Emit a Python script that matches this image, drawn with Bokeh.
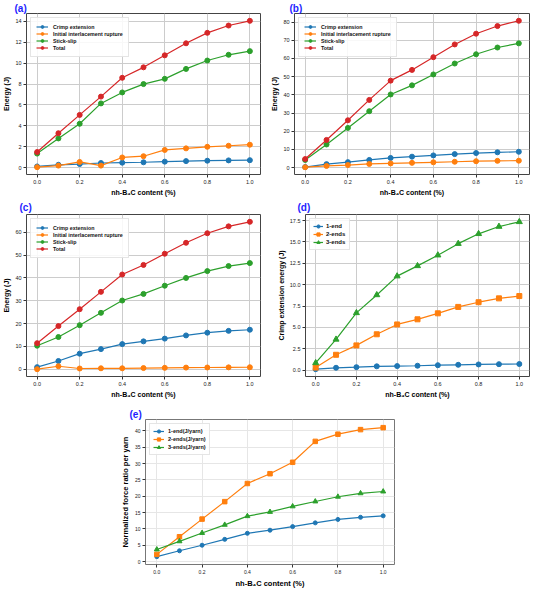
from bokeh.plotting import figure
from bokeh.models import Legend, LegendItem, FixedTicker, Range1d
from bokeh.layouts import column, row
from bokeh.embed import file_html
from bokeh.resources import INLINE

# ---------------- data ----------------
x_content = [0.0, 0.1, 0.2, 0.3, 0.4, 0.5, 0.6, 0.7, 0.8, 0.9, 1.0]
x_ticks = [0.0, 0.2, 0.4, 0.6, 0.8, 1.0]
x_tick_labels = ["0.0", "0.2", "0.4", "0.6", "0.8", "1.0"]
x_title = "nh-B\u2084C content (%)"

energy_names = ["Crimp extension", "Initial interlacement rupture", "Stick-slip", "Total"]

a_crimp = [0.12, 0.28, 0.35, 0.45, 0.48, 0.52, 0.58, 0.63, 0.67, 0.70, 0.72]
a_rupture = [0.05, 0.20, 0.55, 0.20, 0.98, 1.10, 1.70, 1.85, 2.00, 2.10, 2.20]
a_stick = [1.35, 2.80, 4.20, 6.15, 7.20, 8.00, 8.50, 9.45, 10.25, 10.80, 11.15]
a_total = [1.50, 3.30, 5.05, 6.80, 8.60, 9.60, 10.75, 11.90, 12.90, 13.60, 14.05]
a_y_ticks = [0, 2, 4, 6, 8, 10, 12, 14]

b_crimp = [0.3, 1.9, 3.0, 4.2, 5.3, 6.0, 6.7, 7.4, 8.0, 8.4, 8.7]
b_rupture = [0.2, 0.9, 1.4, 2.0, 2.3, 2.6, 2.9, 3.2, 3.5, 3.7, 3.8]
b_stick = [4.2, 12.7, 21.8, 31.0, 40.2, 45.2, 51.2, 57.2, 62.3, 66.0, 68.3]
b_total = [4.7, 15.2, 26.0, 37.2, 47.8, 53.7, 60.7, 67.7, 73.6, 77.8, 80.7]
b_y_ticks = [0, 10, 20, 30, 40, 50, 60, 70, 80]

c_crimp = [0.9, 3.6, 6.8, 8.8, 11.0, 12.2, 13.4, 14.8, 16.0, 16.8, 17.3]
c_rupture = [0.0, 1.3, 0.3, 0.4, 0.4, 0.5, 0.6, 0.7, 0.75, 0.8, 0.85]
c_stick = [10.3, 14.1, 19.3, 24.7, 30.1, 33.0, 36.6, 40.0, 43.0, 45.2, 46.5]
c_total = [11.4, 18.9, 26.3, 33.9, 41.5, 45.7, 50.6, 55.4, 59.6, 62.6, 64.6]
c_y_ticks = [0, 10, 20, 30, 40, 50, 60]

d_names = ["1-end", "2-ends", "3-ends"]
d_one = [0.12, 0.28, 0.35, 0.45, 0.48, 0.52, 0.58, 0.63, 0.67, 0.70, 0.72]
d_two = [0.30, 1.80, 2.90, 4.20, 5.35, 5.95, 6.65, 7.40, 7.95, 8.40, 8.67]
d_three = [0.85, 3.60, 6.70, 8.80, 11.00, 12.20, 13.45, 14.80, 15.95, 16.80, 17.35]
d_y_ticks = [0, 2.5, 5.0, 7.5, 10.0, 12.5, 15.0, 17.5]
d_y_tick_labels = ["0.0", "2.5", "5.0", "7.5", "10.0", "12.5", "15.0", "17.5"]

e_names = ["1-end(J/yarn)", "2-ends(J/yarn)", "3-ends(J/yarn)"]
e_one = [1.5, 3.3, 5.0, 6.8, 8.65, 9.6, 10.7, 11.85, 12.9, 13.55, 14.0]
e_two = [2.2, 7.6, 13.0, 18.35, 23.9, 26.9, 30.4, 36.8, 39.0, 40.4, 41.0]
e_three = [3.7, 6.2, 8.75, 11.25, 13.9, 15.2, 16.9, 18.4, 19.85, 20.9, 21.45]
e_y_ticks = [0, 5, 10, 15, 20, 25, 30, 35, 40]

C_BLUE, C_ORANGE, C_GREEN, C_RED = "#1f77b4", "#ff7f0e", "#2ca02c", "#d62728"
TITLE_FONT = "Liberation Sans"
PANEL_BLUE = "#1e1eff"


def make_panel(width, height, mb, y_rng, y_ticks, y_labels, y_title, series,
               leg, tag, tag_offset, tag_standoff, grid_color="#cccccc",
               tick_size="5.5px", title_size="7px"):
    left, right, top, bottom = mb
    p = figure(width=width, height=height, output_backend="svg",
               toolbar_location=None, x_range=Range1d(-0.05, 1.05),
               y_range=Range1d(*y_rng), min_border_left=left,
               min_border_right=right, min_border_top=top,
               min_border_bottom=bottom)
    p.outline_line_color = "#444444"
    p.outline_line_width = 1
    p.background_fill_color = "white"
    p.border_fill_color = "white"

    # panel tag such as "(a)"
    p.title.text = tag
    p.title.text_color = PANEL_BLUE
    p.title.text_font = TITLE_FONT
    p.title.text_font_style = "bold"
    p.title.text_font_size = "10px"
    p.title.align = "left"
    p.title.offset = tag_offset
    p.title.standoff = tag_standoff

    p.xaxis.ticker = FixedTicker(ticks=x_ticks)
    p.xaxis.major_label_overrides = dict(zip(x_ticks, x_tick_labels))
    p.yaxis.ticker = FixedTicker(ticks=y_ticks)
    p.yaxis.major_label_overrides = dict(zip(y_ticks, y_labels))
    for ax in (p.xaxis[0], p.yaxis[0]):
        ax.axis_line_color = None
        ax.major_tick_out = 3
        ax.major_tick_in = 0
        ax.minor_tick_out = 0
        ax.minor_tick_in = 0
        ax.major_tick_line_color = "#333333"
        ax.major_label_standoff = 2
        ax.major_label_text_font = TITLE_FONT
        ax.major_label_text_font_size = tick_size
        ax.major_label_text_color = "#222222"
        ax.axis_label_standoff = 2
        ax.axis_label_text_font = TITLE_FONT
        ax.axis_label_text_font_style = "bold"
        ax.axis_label_text_font_size = title_size
        ax.axis_label_text_color = "black"
    p.xaxis.axis_label = x_title
    p.yaxis.axis_label = y_title
    p.xgrid.grid_line_color = grid_color
    p.ygrid.grid_line_color = grid_color
    p.xgrid.grid_line_width = 1
    p.ygrid.grid_line_width = 1

    items = []
    for name, vals, color, marker, msize in series:
        ln = p.line(x_content, vals, line_color=color, line_width=1.2)
        sc = p.scatter(x_content, vals, marker=marker, size=msize,
                       fill_color=color, line_color=color)
        items.append(LegendItem(label=name, renderers=[ln, sc]))

    legend = Legend(items=items, location="top_left",
                    label_text_font=TITLE_FONT, label_text_font_style="bold",
                    label_text_font_size=leg["font"], label_text_color="#111111",
                    label_height=leg["row"], glyph_height=leg["row"],
                    glyph_width=leg["gw"], label_standoff=leg["stand"],
                    spacing=0, padding=leg["pad"], margin=4,
                    border_line_color="#cccccc", border_line_width=1,
                    background_fill_color="white", background_fill_alpha=0.85)
    p.add_layout(legend)
    return p


leg_energy = dict(font="5.3px", row=7, gw=12, stand=5, pad=5)
leg_ends = dict(font="6px", row=8, gw=10, stand=3, pad=3)
leg_e = dict(font="5.5px", row=8, gw=11, stand=4, pad=3)

energy_markers = [(C_BLUE, "circle"), (C_ORANGE, "circle"), (C_GREEN, "circle"), (C_RED, "circle")]


def energy_series(vals_list):
    return [(n, v, c, m, 5) for n, v, (c, m) in zip(energy_names, vals_list, energy_markers)]


def int_labels(ticks):
    return [str(t) for t in ticks]


pa = make_panel(268, 198, (21, 8, 10, 22), (-0.65, 14.75), a_y_ticks,
                int_labels(a_y_ticks), "Energy (J)",
                energy_series([a_crimp, a_rupture, a_stick, a_total]),
                leg_energy, "(a)", -12, 0)
pb = make_panel(266, 198, (21, 5, 10, 22), (-3.8, 84.7), b_y_ticks,
                int_labels(b_y_ticks), "Energy (J)",
                energy_series([b_crimp, b_rupture, b_stick, b_total]),
                leg_energy, "(b)", -5, 0)
pc = make_panel(274, 202, (21, 14, 16, 22), (-3.2, 67.8), c_y_ticks,
                int_labels(c_y_ticks), "Energy (J)",
                energy_series([c_crimp, c_rupture, c_stick, c_total]),
                leg_energy, "(c)", -7, 3)
pd_ = make_panel(260, 202, (26, 5, 16, 22), (-0.74, 18.21), d_y_ticks,
                 d_y_tick_labels, "Crimp extension energy (J)",
                 [(d_names[0], d_one, C_BLUE, "circle", 5),
                  (d_names[1], d_two, C_ORANGE, "square", 5),
                  (d_names[2], d_three, C_GREEN, "triangle", 6)],
                 leg_ends, "(d)", -8, 3)
pe = make_panel(534, 190, (145, 140, 19, 22), (-0.9, 43.5), e_y_ticks,
                int_labels(e_y_ticks), "Normalized force ratio per yarn",
                [(e_names[0], e_one, C_BLUE, "circle", 4),
                 (e_names[1], e_two, C_ORANGE, "square", 4.5),
                 (e_names[2], e_three, C_GREEN, "triangle", 5)],
                leg_e, "(e)", -16, 0, grid_color="#e6e6e6",
                tick_size="5px", title_size="7.5px")
pe.outline_line_color = "#777777"

layout = column(row(pa, pb), row(pc, pd_), pe)
open("out.html", "w").write(file_html(layout, INLINE))
